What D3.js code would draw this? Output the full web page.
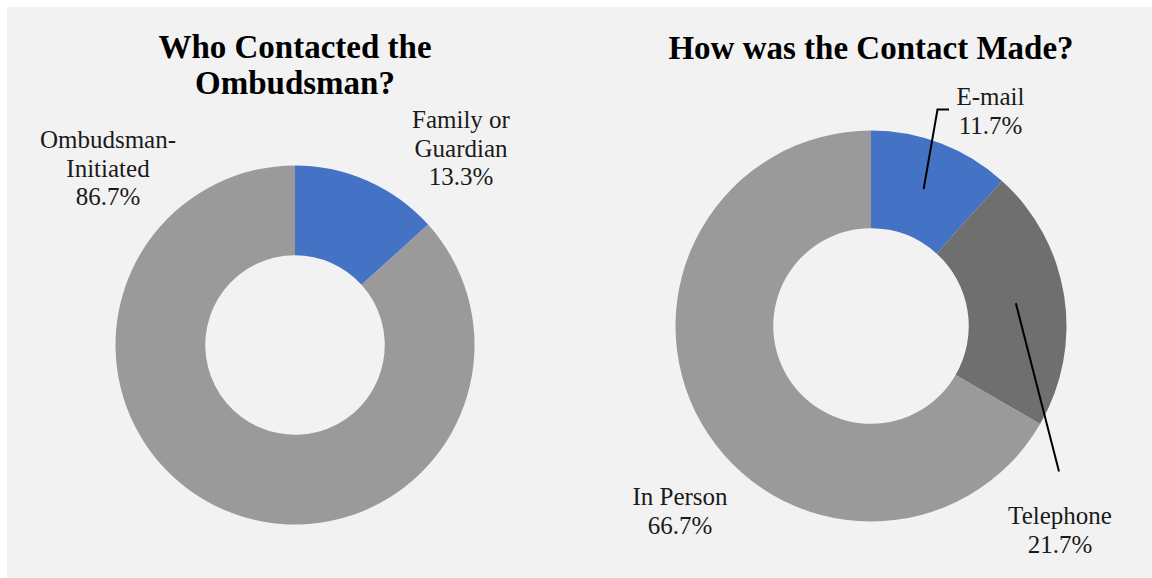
<!DOCTYPE html>
<html>
<head>
<meta charset="utf-8">
<script src="https://cdn.jsdelivr.net/npm/d3@7/dist/d3.min.js"></script>
<style>
  html, body { margin: 0; padding: 0; background: #ffffff; }
  svg { display: block; }
  text { font-family: "Liberation Serif", "Times New Roman", serif; }
</style>
</head>
<body>
<svg id="chart" width="1152" height="578"></svg>
<script>
// Who contacted the ombudsman
const whoCategories = ["Family or Guardian", "Ombudsman-Initiated"];
const whoValues = [13.3, 86.7];
const whoLabelLines = [["Family or", "Guardian"], ["Ombudsman-", "Initiated"]];

// How the contact was made
const howCategories = ["E-mail", "Telephone", "In Person"];
const howValues = [11.7, 21.7, 66.7];
const howLabelLines = [["E-mail"], ["Telephone"], ["In Person"]];

const titles = [["Who Contacted the", "Ombudsman?"], ["How was the Contact Made?"]];

const svg = d3.select("#chart");
const W = 1152, H = 578;

svg.append("rect")
  .attr("x", 7).attr("y", 7)
  .attr("width", W - 7).attr("height", H - 7)
  .attr("fill", "#f2f2f2");

const pct = v => d3.format(".1f")(v) + "%";

function donut(opts) {
  const g = svg.append("g").attr("transform", `translate(${opts.cx},${opts.cy})`);
  const color = d3.scaleOrdinal().domain(opts.categories).range(opts.colors);
  const pie = d3.pie().sort(null).value(d => d.value);
  const data = pie(opts.categories.map((c, i) => ({ name: c, value: opts.values[i], lines: opts.lines[i] })));
  const arc = d3.arc().innerRadius(opts.r * 0.5).outerRadius(opts.r);

  g.selectAll("path.slice")
    .data(data)
    .join("path")
    .attr("class", "slice")
    .attr("d", arc)
    .attr("fill", d => color(d.data.name));

  // title
  const t = svg.append("text")
    .attr("x", opts.cx)
    .attr("text-anchor", "middle")
    .attr("font-weight", "bold")
    .attr("font-size", 33)
    .attr("fill", "#000");
  opts.title.forEach((line, i) => {
    t.append("tspan").attr("x", opts.cx).attr("y", opts.titleY + i * 36).text(line);
  });

  // data labels
  data.forEach((d, i) => {
    const pos = opts.labelPos[i];
    const lines = d.data.lines.concat([pct(d.data.value)]);
    const txt = svg.append("text")
      .attr("text-anchor", "middle")
      .attr("font-size", 25)
      .attr("fill", "#1a1a1a");
    lines.forEach((line, k) => {
      txt.append("tspan").attr("x", pos.x).attr("y", pos.y + k * 28.5).text(line);
    });

    // leader line from the slice centroid
    if (pos.leader) {
      const c = arc.centroid(d);
      const pts = [[opts.cx + c[0], opts.cy + c[1]]].concat(pos.leader);
      svg.append("path")
        .attr("d", d3.line()(pts))
        .attr("fill", "none")
        .attr("stroke", "#000")
        .attr("stroke-width", 2);
    }
  });
}

donut({
  cx: 295, cy: 345, r: 179.5,
  categories: whoCategories, values: whoValues, lines: whoLabelLines,
  colors: ["#4472c4", "#9a9a9a"],
  title: titles[0], titleY: 58,
  labelPos: [
    { x: 461, y: 128 },
    { x: 108, y: 148 }
  ]
});

donut({
  cx: 871, cy: 326, r: 195.5,
  categories: howCategories, values: howValues, lines: howLabelLines,
  colors: ["#4472c4", "#6f6f6f", "#9a9a9a"],
  title: titles[1], titleY: 59,
  labelPos: [
    { x: 990.5, y: 105, leader: [[937.5, 109.5], [949, 109.5]] },
    { x: 1060, y: 524, leader: [[1059, 471.5]] },
    { x: 680, y: 505 }
  ]
});
</script>
</body>
</html>
